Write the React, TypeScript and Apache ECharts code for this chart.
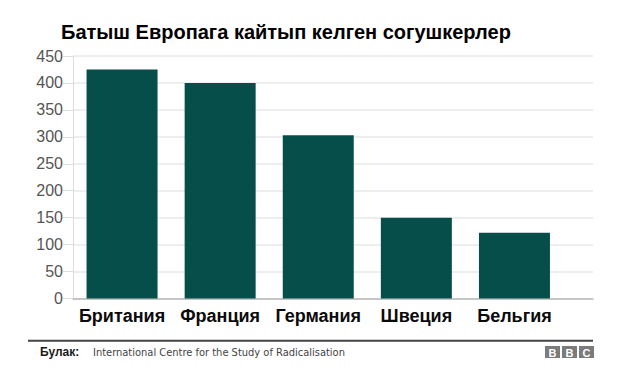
import React, { useEffect, useRef } from "react";
import * as echarts from "echarts";

const categories = ["Британия", "Франция", "Германия", "Швеция", "Бельгия"];
const fighters = [425, 400, 303, 150, 122];
const yMin = 0;
const yMax = 450;
const yStep = 50;
const titleText = "Батыш Европага кайтып келген согушкерлер";
const sourceLabel = "Булак:";
const sourceText = "International Centre for the Study of Radicalisation";
const logoLetters = ["B", "B", "C"];

export default function App() {
  const ref = useRef<HTMLDivElement>(null);
  useEffect(() => {
    document.body.style.margin = "0";
    const chart = echarts.init(ref.current!, null, { renderer: "svg" });
    const logo: any[] = [];
    logoLetters.forEach((ch, i) => {
      logo.push({
        type: "rect",
        shape: { x: 545 + i * 17, y: 346, width: 15, height: 12 },
        style: { fill: "#7b7b7b" },
      });
      logo.push({
        type: "text",
        x: 545 + i * 17 + 7.5,
        y: 352.5,
        style: {
          text: ch,
          fill: "#ffffff",
          font: "bold 11px 'Liberation Sans', Arial, sans-serif",
          align: "center",
          verticalAlign: "middle",
        },
      });
    });
    chart.setOption({
      animation: false,
      backgroundColor: "#ffffff",
      title: {
        text: titleText,
        left: 61,
        top: 22,
        padding: 0,
        textStyle: {
          fontFamily: "'Liberation Sans', Arial, sans-serif",
          fontWeight: "bold",
          fontSize: 20,
          color: "#000000",
        },
      },
      grid: [
        { left: 73, right: 76.5, top: 56, bottom: 88.5 },
        { left: 73, right: 47, top: 56, bottom: 88.5 },
      ],
      xAxis: [
        {
          type: "category",
          gridIndex: 0,
          data: categories,
          axisLine: { show: false },
          axisTick: { show: false },
          axisLabel: {
            interval: 0,
            margin: 8,
            color: "#0a0a0a",
            fontFamily: "'Liberation Sans', Arial, sans-serif",
            fontWeight: "bold",
            fontSize: 18,
          },
        },
        {
          type: "value",
          gridIndex: 1,
          min: 0,
          max: 1,
          axisLine: { show: true, lineStyle: { color: "#b8b8b8", width: 1.5 } },
          axisTick: { show: false },
          axisLabel: { show: false },
          splitLine: { show: false },
        },
      ],
      yAxis: [
        {
          type: "value",
          gridIndex: 0,
          min: yMin,
          max: yMax,
          interval: yStep,
          axisLine: { show: false },
          axisTick: { show: false },
          axisLabel: { show: false },
          splitLine: { show: false },
        },
        {
          type: "value",
          gridIndex: 1,
          min: yMin,
          max: yMax,
          interval: yStep,
          axisLine: { show: true, lineStyle: { color: "#dddddd" } },
          axisTick: { show: true, length: 10, lineStyle: { color: "#dddddd" } },
          axisLabel: {
            margin: 10,
            color: "#555555",
            fontFamily: "'Liberation Sans', Arial, sans-serif",
            fontSize: 16,
          },
          splitLine: { show: true, lineStyle: { color: "#e8e8e8", width: 1.5 } },
        },
      ],
      series: [
        {
          type: "bar",
          xAxisIndex: 0,
          yAxisIndex: 0,
          data: fighters,
          barWidth: 71,
          itemStyle: { color: "#064e4a" },
          z: 3,
        },
      ],
      graphic: [
        {
          type: "line",
          shape: { x1: 28, y1: 340.7, x2: 593, y2: 340.7 },
          style: { stroke: "#444444", lineWidth: 2 },
        },
        {
          type: "text",
          x: 40,
          y: 358,
          style: {
            text: sourceLabel,
            fill: "#1a1a1a",
            font: "bold 12px 'Liberation Sans', Arial, sans-serif",
            verticalAlign: "bottom",
          },
        },
        {
          type: "text",
          x: 93,
          y: 358,
          style: {
            text: sourceText,
            fill: "#444444",
            font: "11px 'Liberation Sans Narrow', 'DejaVu Sans Condensed', sans-serif",
            verticalAlign: "bottom",
          },
        },
        ...logo,
      ],
    });
    return () => chart.dispose();
  }, []);
  return <div ref={ref} style={{ width: 640, height: 387 }} />;
}
